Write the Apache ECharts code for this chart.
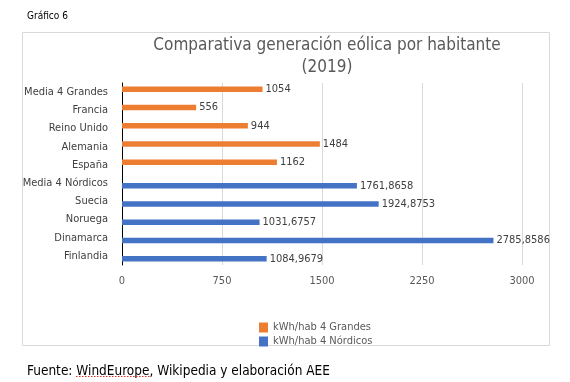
<!DOCTYPE html>
<html><head><meta charset="utf-8">
<script src="https://cdn.jsdelivr.net/npm/echarts@6/dist/echarts.min.js"></script>
<style>html,body{margin:0;padding:0;background:#fff}#c{width:570px;height:382px}</style>
</head><body><div id="c"></div>
<script>
const categories = ['Finlandia','Dinamarca','Noruega','Suecia','Media 4 Nórdicos','España','Alemania','Reino Unido','Francia','Media 4 Grandes'];
const grandes = [null,null,null,null,null,1162,1484,944,556,1054];
const nordicos = [1084.9679,2785.8586,1031.6757,1924.8753,1761.8658,null,null,null,null,null];
const seriesNames = ['kWh/hab 4 Grandes','kWh/hab 4 Nórdicos'];
const xTicks = [0,750,1500,2250,3000];

const FONT = '"DejaVu Sans Condensed", "DejaVu Sans", sans-serif';
const chart = echarts.init(document.getElementById('c'), null, {renderer:'canvas'});
const fmt = p => String(p.value).replace('.', ',');
chart.setOption({
  animation:false,
  title:[
    {text:'Gráfico 6', left:22, top:6, textStyle:{fontFamily:FONT, fontSize:10, fontWeight:'normal', color:'#000'}},
    {text:'Comparativa generación eólica por habitante\n(2019)', left:322, textAlign:'center', top:30, textStyle:{fontFamily:FONT, fontSize:17, fontWeight:'normal', color:'#595959', lineHeight:22}},
    {text:'Fuente: WindEurope, Wikipedia y elaboración AEE', left:22, top:359, textStyle:{fontFamily:FONT, fontSize:13.5, fontWeight:'normal', color:'#000'}}
  ],
  graphic:[
    {type:'rect', shape:{x:22.5,y:32.5,width:527,height:313}, style:{fill:null, stroke:'#d9d9d9', lineWidth:1}, silent:true, z:-1},
    {type:'line', shape:{x1:76,y1:376.5,x2:150,y2:376.5}, style:{stroke:'#e03030', lineWidth:1.2, lineDash:[1.5,1.5]}, silent:true, z:10}
  ],
  legend:{orient:'vertical', left:254, top:317, itemWidth:9, itemHeight:10, itemGap:3, icon:'rect',
    textStyle:{fontFamily:FONT, fontSize:11, color:'#595959'}, data:seriesNames},
  grid:{left:122, right:48, top:83, bottom:117, containLabel:false},
  xAxis:{type:'value', min:xTicks[0], max:xTicks[xTicks.length-1], interval:xTicks[1]-xTicks[0],
    axisLine:{show:false}, axisTick:{show:false},
    splitLine:{lineStyle:{color:'#d9d9d9'}},
    axisLabel:{fontFamily:FONT, fontSize:11, color:'#595959', margin:11, formatter:v=>String(v)}},
  yAxis:{type:'category', data:categories,
    axisLine:{lineStyle:{color:'#000', width:1}}, axisTick:{show:false},
    axisLabel:{fontFamily:FONT, fontSize:11, color:'#404040', margin:14}},
  series:[
    {name:seriesNames[0], type:'bar', data:grandes, barWidth:5.5, barGap:'0%', itemStyle:{color:'#ED7D31'},
      label:{show:true, position:'right', distance:3, formatter:fmt, fontFamily:FONT, fontSize:11, color:'#404040'}},
    {name:seriesNames[1], type:'bar', data:nordicos, barWidth:5.5, barGap:'0%', itemStyle:{color:'#4472C4'},
      label:{show:true, position:'right', distance:3, formatter:fmt, fontFamily:FONT, fontSize:11, color:'#404040'}}
  ]
});
</script></body></html>
